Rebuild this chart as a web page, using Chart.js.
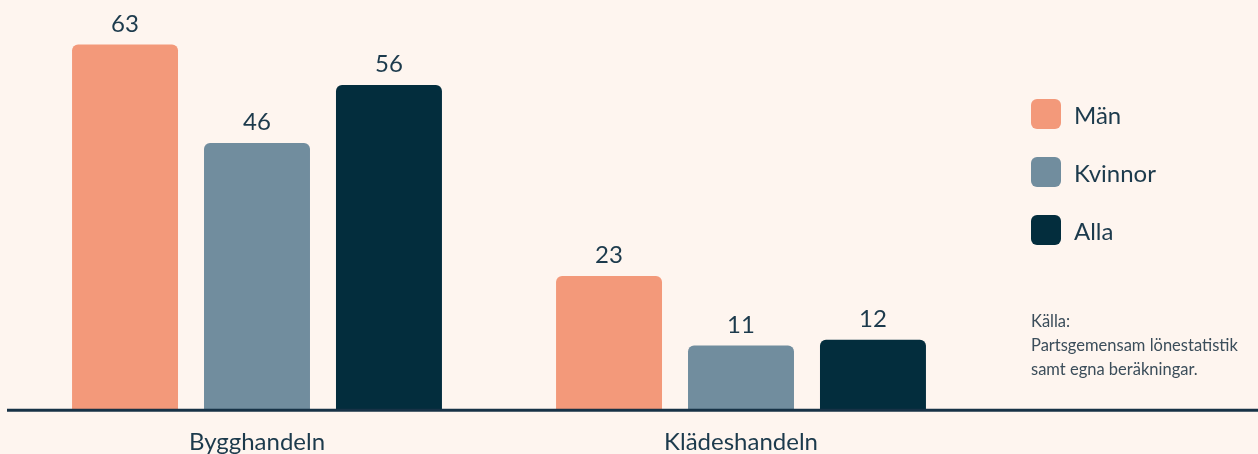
<!DOCTYPE html>
<html lang="sv">
<head>
<meta charset="utf-8">
<script src="https://cdn.jsdelivr.net/npm/chart.js@4"></script>
<style>
  html, body { margin: 0; padding: 0; background: #fef5ef; }
  #wrap { position: relative; width: 1258px; height: 454px; overflow: hidden; }
  #chart { position: absolute; left: 0; top: 0; }
  .legend { position: absolute; left: 1031px; top: 99px; font-family: 'Lato', sans-serif; color: #1c3a4c; }
  .legend .item { display: flex; align-items: center; height: 30px; margin-bottom: 28px; font-size: 24px; }
  .legend .sw { width: 30px; height: 30px; border-radius: 6px; margin-right: 13px; }
  .source { position: absolute; left: 1031px; top: 309px; font-family: 'Lato', sans-serif; font-size: 16.5px; line-height: 24px; color: #3b4d5a; }
</style>
</head>
<body>
<div id="wrap">
  <canvas id="chart" width="1258" height="454"></canvas>
  <div class="legend" id="legend"></div>
  <div class="source">Källa:<br>Partsgemensam lönestatistik<br>samt egna beräkningar.</div>
</div>
<script>
const categories = ["Bygghandeln", "Klädeshandeln"];
const seriesNames = ["Män", "Kvinnor", "Alla"];
const man = [63, 23];
const kvinnor = [46, 11];
const alla = [56, 12];
const colors = ["#f3997a", "#718d9e", "#032d3d"];

// legend in HTML
const legendEl = document.getElementById("legend");
seriesNames.forEach((name, i) => {
  const row = document.createElement("div");
  row.className = "item";
  row.innerHTML = '<span class="sw" style="background:' + colors[i] + '"></span>' + name;
  legendEl.appendChild(row);
});

const baseLine = {
  id: "baseLine",
  afterDatasetsDraw(chart) {
    const ctx = chart.ctx;
    const y = chart.chartArea.bottom + 1;
    ctx.save();
    ctx.strokeStyle = "#173246";
    ctx.lineWidth = 3;
    ctx.beginPath();
    ctx.moveTo(7, y);
    ctx.lineTo(chart.width, y);
    ctx.stroke();
    ctx.restore();
  }
};

const valueLabels = {
  id: "valueLabels",
  afterDatasetsDraw(chart) {
    const ctx = chart.ctx;
    ctx.save();
    ctx.fillStyle = "#1c3a4c";
    ctx.font = "24px 'Lato', sans-serif";
    ctx.textAlign = "center";
    ctx.textBaseline = "alphabetic";
    chart.data.datasets.forEach((ds, di) => {
      chart.getDatasetMeta(di).data.forEach((bar, i) => {
        ctx.fillText(ds.data[i], bar.x, bar.y - 13);
      });
    });
    ctx.restore();
  }
};

new Chart(document.getElementById("chart"), {
  type: "bar",
  data: {
    labels: categories,
    datasets: [
      { label: seriesNames[0], data: man, backgroundColor: colors[0] },
      { label: seriesNames[1], data: kvinnor, backgroundColor: colors[1] },
      { label: seriesNames[2], data: alla, backgroundColor: colors[2] }
    ]
  },
  options: {
    responsive: false,
    animation: false,
    datasets: {
      bar: {
        categoryPercentage: 0.818,
        barPercentage: 0.803,
        borderRadius: 6,
        borderSkipped: "start"
      }
    },
    layout: {
      padding: { top: 4, bottom: -22, left: 15, right: 275 }
    },
    plugins: {
      legend: { display: false },
      tooltip: { enabled: false }
    },
    scales: {
      x: {
        grid: { display: false, drawTicks: false },
        border: { display: false },
        ticks: {
          color: "#1c3a4c",
          padding: 19,
          font: { family: "'Lato', sans-serif", size: 24 }
        }
      },
      y: {
        display: false,
        min: 0,
        max: 70
      }
    }
  },
  plugins: [baseLine, valueLabels]
});
</script>
</body>
</html>
